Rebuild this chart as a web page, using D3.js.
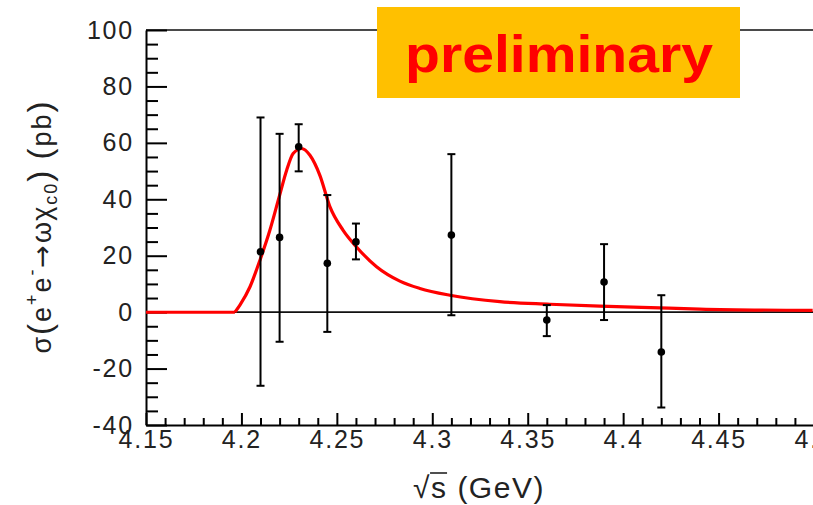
<!DOCTYPE html>
<html>
<head>
<meta charset="utf-8">
<script src="https://cdn.jsdelivr.net/npm/d3@7"></script>
<style>
  html, body { margin: 0; padding: 0; background: #fff; }
  svg { display: block; }
  text { font-family: "Liberation Sans", Arial, sans-serif; }
</style>
</head>
<body>
<svg id="chart" width="813" height="505"></svg>
<script>
// Measured cross sections (pb) at each c.m. energy (GeV)
const energy   = [4.21, 4.22, 4.23, 4.245, 4.26, 4.31, 4.36, 4.39, 4.42];
const sigma    = [21.4, 26.5, 58.6, 17.3, 24.9, 27.3, -2.8, 10.7, -14.1];
const errUp    = [47.6, 36.7, 8.0, 24.2, 6.5, 28.7, 5.3, 13.4, 20.1];
const errDown  = [47.5, 37.0, 8.7, 24.3, 6.2, 28.4, 5.7, 13.5, 19.7];

// Fitted line shape (pb) sampled along the energy axis
const fitEnergy = [4.15, 4.1966, 4.1992, 4.2045, 4.2097, 4.2149, 4.2198, 4.2237, 4.2271,
                   4.2315, 4.2359, 4.2411, 4.2464, 4.2533, 4.2603, 4.2708, 4.283, 4.2935,
                   4.3092, 4.3354, 4.3616, 4.3878, 4.4192, 4.4401, 4.4993];
const fitSigma  = [0, 0, 2.5, 9.0, 18.4, 29.0, 40.9, 50.3, 56.2,
                   58.0, 55.6, 48.5, 37.3, 29.0, 23.1, 16.1, 11.0, 8.4,
                   6.0, 3.7, 2.8, 2.1, 1.5, 1.1, 0.6];

// Axis ticks
const xMajorTicks = [4.15, 4.2, 4.25, 4.3, 4.35, 4.4, 4.45, 4.5];
const yMajorTicks = [-40, -20, 0, 20, 40, 60, 80, 100];
const xDomain = [4.15, 4.5];
const yDomain = [-40, 100];

const svg = d3.select("#chart");
const plotL = 146, plotR = 814, plotT = 30, plotB = 425;

const x = d3.scaleLinear().domain(xDomain).range([plotL, plotR]);
const y = d3.scaleLinear().domain(yDomain).range([plotB, plotT]);

const xMinorTicks = d3.range(0, 36).map(i => +(4.15 + i * 0.01).toFixed(2))
  .filter(v => !xMajorTicks.some(m => Math.abs(m - v) < 1e-6));
const yMinorTicks = d3.range(-40, 101, 5).filter(v => v % 20 !== 0);

// Frame top line
svg.append("line")
  .attr("x1", plotL).attr("x2", plotR).attr("y1", plotT).attr("y2", plotT)
  .attr("stroke", "#4a4a4a").attr("stroke-width", 2);

// Zero line
svg.append("line")
  .attr("x1", plotL).attr("x2", plotR).attr("y1", y(0)).attr("y2", y(0))
  .attr("stroke", "#111").attr("stroke-width", 1.6);

// X axis (ticks pointing inward)
svg.append("g").attr("class", "xaxis").attr("transform", `translate(0,${plotB})`)
  .call(d3.axisBottom(x).tickValues(xMajorTicks).tickSizeInner(-12).tickSizeOuter(0)
    .tickPadding(5).tickFormat(d => String(+d.toFixed(2))));
svg.append("g").attr("transform", `translate(0,${plotB})`)
  .call(d3.axisBottom(x).tickValues(xMinorTicks).tickSizeInner(-7).tickSizeOuter(0).tickFormat(""))
  .call(g => g.select(".domain").remove());

// Y axis (ticks pointing inward)
svg.append("g").attr("class", "yaxis").attr("transform", `translate(${plotL},0)`)
  .call(d3.axisLeft(y).tickValues(yMajorTicks).tickSizeInner(-21).tickSizeOuter(0)
    .tickPadding(12).tickFormat(d => String(d)));
svg.append("g").attr("transform", `translate(${plotL},0)`)
  .call(d3.axisLeft(y).tickValues(yMinorTicks).tickSizeInner(-12).tickSizeOuter(0).tickFormat(""))
  .call(g => g.select(".domain").remove());

svg.selectAll(".domain").attr("stroke", "#000").attr("stroke-width", 2);
svg.selectAll(".tick line").attr("stroke", "#000").attr("stroke-width", 2);
svg.selectAll(".tick text").attr("font-size", 25).attr("fill", "#222")
  .attr("letter-spacing", 1.8)
  .attr("font-family", "'Liberation Sans', Arial, sans-serif");

// Fit curve
const fitPts = fitEnergy.map((e, i) => [e, fitSigma[i]]);
const line = d3.line().x(d => x(d[0])).y(d => y(d[1]));
const thresholdIdx = 1;
svg.append("path")
  .datum(fitPts.slice(0, thresholdIdx + 1))
  .attr("d", line)
  .attr("fill", "none").attr("stroke", "#ff0000").attr("stroke-width", 3);
svg.append("path")
  .datum(fitPts.slice(thresholdIdx))
  .attr("d", line.curve(d3.curveMonotoneX))
  .attr("fill", "none").attr("stroke", "#ff0000").attr("stroke-width", 3.2);

// Data points with error bars
const pts = energy.map((e, i) => ({ e, s: sigma[i], up: errUp[i], dn: errDown[i] }));
const g = svg.append("g").attr("stroke", "#000").attr("stroke-width", 2);
const capW = 4;
pts.forEach(p => {
  const cx = x(p.e);
  g.append("line").attr("x1", cx).attr("x2", cx)
    .attr("y1", y(p.s + p.up)).attr("y2", y(p.s - p.dn));
  g.append("line").attr("x1", cx - capW).attr("x2", cx + capW)
    .attr("y1", y(p.s + p.up)).attr("y2", y(p.s + p.up));
  g.append("line").attr("x1", cx - capW).attr("x2", cx + capW)
    .attr("y1", y(p.s - p.dn)).attr("y2", y(p.s - p.dn));
});
svg.append("g").selectAll("circle").data(pts).join("circle")
  .attr("cx", d => x(d.e)).attr("cy", d => y(d.s)).attr("r", 3.8).attr("fill", "#000");

// Y axis title
const yt = svg.append("text")
  .attr("transform", `translate(51,${(plotT + plotB) / 2}) rotate(-90)`)
  .attr("text-anchor", "middle").attr("font-size", 27).attr("fill", "#222")
  .attr("textLength", 252).attr("lengthAdjust", "spacing");
yt.append("tspan").text("σ");
yt.append("tspan").attr("font-size", 33).text("(");
yt.append("tspan").text("e");
yt.append("tspan").attr("font-size", 18).attr("dy", -13).text("+");
yt.append("tspan").attr("dy", 13).text("e");
yt.append("tspan").attr("font-size", 18).attr("dy", -13).text("-");
yt.append("tspan").attr("dy", 13).attr("font-size", 27)
  .attr("font-family", "'DejaVu Sans', sans-serif").text("→");
yt.append("tspan").text("ωχ");
yt.append("tspan").attr("font-size", 18).attr("dy", 6).text("c0");
yt.append("tspan").attr("font-size", 33).attr("dy", -6).text(")");
yt.append("tspan").text(" ");
yt.append("tspan").attr("font-size", 33).text("(");
yt.append("tspan").text("pb");
yt.append("tspan").attr("font-size", 33).text(")");

// X axis title
const xtBase = 498;
const xt = svg.append("text")
  .attr("x", 479).attr("y", xtBase)
  .attr("text-anchor", "middle").attr("font-size", 30).attr("fill", "#222")
  .attr("letter-spacing", 1.5);
xt.append("tspan").text("√");
xt.append("tspan").text("s (GeV)");
const node = xt.node();
const x0 = node.getStartPositionOfChar(1).x;
const x1 = node.getEndPositionOfChar(1).x;
svg.append("line")
  .attr("x1", x0 - 1).attr("x2", x1 - 0.5).attr("y1", xtBase - 25).attr("y2", xtBase - 25)
  .attr("stroke", "#222").attr("stroke-width", 1.6);

// Preliminary banner
svg.append("rect").attr("x", 377).attr("y", 7).attr("width", 363).attr("height", 91)
  .attr("fill", "#ffc000");
svg.append("text").attr("x", 405).attr("y", 72)
  .attr("font-family", "'Comic Sans MS', 'DejaVu Sans', sans-serif")
  .attr("font-weight", "bold").attr("font-size", 52).attr("fill", "#ff0000")
  .attr("textLength", 308).attr("lengthAdjust", "spacingAndGlyphs")
  .text("preliminary");
</script>
</body>
</html>
